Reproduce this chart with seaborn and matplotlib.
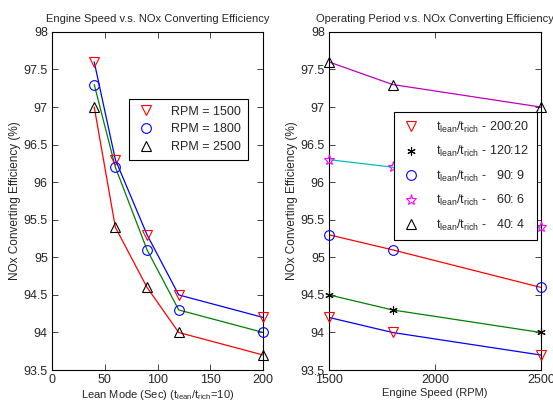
import numpy as np
import pandas as pd
import matplotlib
matplotlib.use("Agg")
import matplotlib.pyplot as plt
import seaborn as sns

# left panel: lean mode duration vs efficiency
lean_sec = [40, 60, 90, 120, 200]
rpm_labels = ["RPM = 1500", "RPM = 1800", "RPM = 2500"]
eff_1500 = [97.6, 96.3, 95.3, 94.5, 94.2]
eff_1800 = [97.3, 96.2, 95.1, 94.3, 94.0]
eff_2500 = [97.0, 95.4, 94.6, 94.0, 93.7]

# right panel: engine speed vs efficiency
rpm = [1500, 1800, 2500]
period_labels = ["200:20", "120:12", "  90: 9", "  60: 6", "  40: 4"]
eff_200_20 = [94.2, 94.0, 93.7]
eff_120_12 = [94.5, 94.3, 94.0]
eff_90_9 = [95.3, 95.1, 94.6]
eff_60_6 = [96.3, 96.2, 95.4]
eff_40_4 = [97.6, 97.3, 97.0]

sns.set_style("ticks")
plt.rcParams["font.family"] = ["Liberation Sans", "DejaVu Sans"]
plt.rcParams["mathtext.fontset"] = "custom"
plt.rcParams["mathtext.rm"] = "Liberation Sans"
plt.rcParams["mathtext.it"] = "Liberation Sans"
plt.rcParams["xtick.direction"] = "in"
plt.rcParams["ytick.direction"] = "in"
plt.rcParams["axes.linewidth"] = 0.8

left_df = pd.DataFrame({
    "x": lean_sec * 3,
    "eff": eff_1500 + eff_1800 + eff_2500,
    "series": [l for l in rpm_labels for _ in lean_sec],
})
right_series = [eff_200_20, eff_120_12, eff_90_9, eff_60_6, eff_40_4]
right_df = pd.DataFrame({
    "x": rpm * 5,
    "eff": sum(right_series, []),
    "series": [p for p in period_labels for _ in rpm],
})

fig, (ax1, ax2) = plt.subplots(1, 2, figsize=(5.53, 4.04), dpi=100)
ax1.set_position([0.094, 0.084, 0.382, 0.837])
ax2.set_position([0.595, 0.084, 0.383, 0.837])

# lines (colours differ from the markers, as in the source)
left_line_pal = dict(zip(rpm_labels, ["blue", "green", "red"]))
sns.lineplot(data=left_df, x="x", y="eff", hue="series", palette=left_line_pal,
             lw=0.9, legend=False, ax=ax1)
left_marks = [("v", "red"), ("o", "blue"), ("^", "black")]
for lab, (m, c) in zip(rpm_labels, left_marks):
    d = left_df[left_df.series == lab]
    ax1.plot(d.x, d.eff, ls="none", marker=m, ms=7, mfc="none", mec=c,
             mew=0.8, label=lab, clip_on=False, zorder=3)

right_line_pal = dict(zip(period_labels, ["blue", "green", "red", "c", "m"]))
sns.lineplot(data=right_df, x="x", y="eff", hue="series", palette=right_line_pal,
             lw=0.9, legend=False, ax=ax2)
right_marks = [("v", "red", 7), ((6, 2, 0), "black", 6), ("o", "blue", 7),
               ("*", "magenta", 8), ("^", "black", 7)]
for lab, (m, c, ms) in zip(period_labels, right_marks):
    d = right_df[right_df.series == lab]
    ax2.plot(d.x, d.eff, ls="none", marker=m, ms=ms, mfc="none", mec=c,
             mew=0.8, label=r"$\mathrm{t_{lean}/t_{rich}}$ - " + lab,
             clip_on=False, zorder=3)

for ax in (ax1, ax2):
    ax.set_ylim(93.5, 98)
    ax.set_yticks(np.arange(93.5, 98.01, 0.5))
    ax.set_yticklabels([f"{v:g}" for v in np.arange(93.5, 98.01, 0.5)])
    ax.tick_params(top=True, right=True, labelsize=9, length=4, width=0.6, pad=3)
    for s in ax.spines.values():
        s.set_visible(True)
        s.set_color("black")
    ax.set_ylabel("NOx Converting Efficiency (%)", fontsize=8.5, labelpad=2)

ax1.set_xlim(0, 200)
ax1.set_xticks([0, 50, 100, 150, 200])
ax1.set_xlabel(r"Lean Mode (Sec) (t$_{lean}$/t$_{rich}$=10)", fontsize=8, labelpad=1)
ax1.set_title("Engine Speed v.s. NOx Converting Efficiency", fontsize=8, pad=7)
leg1 = ax1.legend(loc="upper right", bbox_to_anchor=(0.926, 0.802), fontsize=9,
                  frameon=True, fancybox=False, edgecolor="black", framealpha=1,
                  handletextpad=1.2, borderpad=0.55, labelspacing=0.45,
                  handlelength=1.6, borderaxespad=0)
leg1.get_frame().set_linewidth(0.8)

ax2.set_xlim(1500, 2500)
ax2.set_xticks([1500, 2000, 2500])
ax2.set_xlabel("Engine Speed (RPM)", fontsize=8, labelpad=1)
ax2.set_title("Operating Period v.s. NOx Converting Efficiency", fontsize=8, pad=7)
leg2 = ax2.legend(loc="upper right", bbox_to_anchor=(0.981, 0.763), fontsize=9,
                  frameon=True, fancybox=False, edgecolor="black", framealpha=1,
                  handletextpad=1.2, borderpad=0.6, labelspacing=0.75,
                  handlelength=1.6, borderaxespad=0)
leg2.get_frame().set_linewidth(0.8)

fig.savefig("out.png", dpi=100)
